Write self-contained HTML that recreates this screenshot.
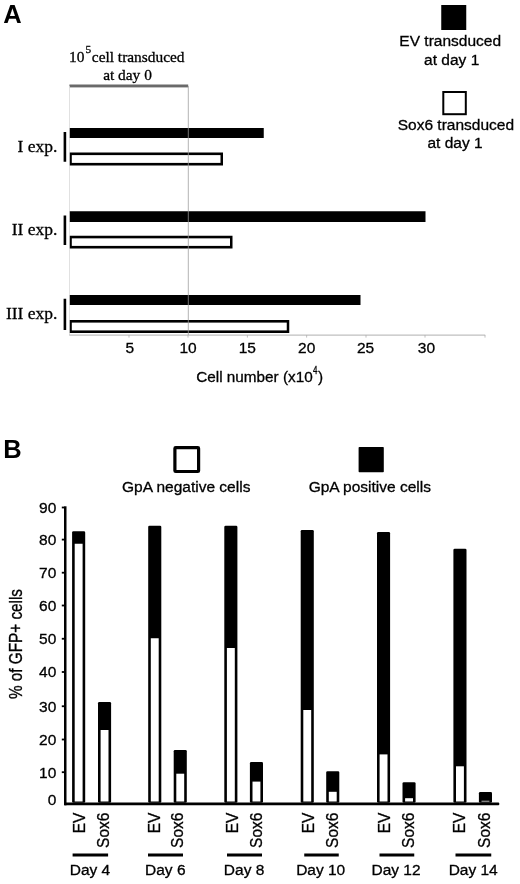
<!DOCTYPE html>
<html><head><meta charset="utf-8"><title>Figure</title>
<style>
html,body{margin:0;padding:0;background:#fff;}
svg{display:block;}
.s{font-family:"Liberation Sans",Arial,sans-serif;font-size:15.5px;fill:#000;stroke:#000;stroke-width:0.3px;}
.t{font-family:"Liberation Serif","Times New Roman",serif;fill:#000;stroke:#000;stroke-width:0.3px;}
.b{font-family:"Liberation Sans",Arial,sans-serif;font-weight:bold;font-size:25.5px;fill:#000;}
</style></head><body>
<svg width="520" height="884" viewBox="0 0 520 884">
<rect width="520" height="884" fill="#fff"/>

<text class="b" x="3.2" y="23">A</text>
<text class="t" font-size="15.4" x="69" y="62">10</text>
<text class="t" font-size="11.3" x="85.6" y="53.4">5</text>
<text class="t" font-size="15.4" x="91.8" y="62">cell transduced</text>
<text class="t" font-size="15.4" x="127.5" y="80" text-anchor="middle">at day 0</text>
<rect x="69.4" y="84.5" width="118.8" height="2.9" fill="#6a6a6a"/>
<rect x="69.1" y="86" width="0.8" height="249" fill="#dadada"/>
<rect x="69.2" y="334.6" width="416" height="1" fill="#b0b0b0"/>
<rect x="128.6" y="335" width="0.8" height="2.6" fill="#b0b0b0"/>
<rect x="187.6" y="335" width="0.8" height="2.6" fill="#b0b0b0"/>
<rect x="246.9" y="335" width="0.8" height="2.6" fill="#b0b0b0"/>
<rect x="306.3" y="335" width="0.8" height="2.6" fill="#b0b0b0"/>
<rect x="365.6" y="335" width="0.8" height="2.6" fill="#b0b0b0"/>
<rect x="424.6" y="335" width="0.8" height="2.6" fill="#b0b0b0"/>
<rect x="484.6" y="335" width="0.8" height="2.6" fill="#b0b0b0"/>
<rect x="69.8" y="128" width="193.95" height="10" fill="#000"/>
<rect x="69.8" y="152.5" width="153.2" height="13.0" fill="#000"/>
<rect x="71.8" y="155.1" width="148.7" height="7.8" fill="#fff"/>
<rect x="63.6" y="132" width="2.6" height="29.75" fill="#000"/>
<text class="t" font-size="17.5" x="57.4" y="151.5" text-anchor="end">I exp.</text>
<rect x="69.8" y="211.25" width="355.7" height="10.75" fill="#000"/>
<rect x="69.8" y="235.75" width="162.7" height="12.75" fill="#000"/>
<rect x="71.8" y="238.35" width="158.2" height="7.55" fill="#fff"/>
<rect x="63.6" y="215.5" width="2.6" height="29.5" fill="#000"/>
<text class="t" font-size="17.5" x="57.4" y="234.5" text-anchor="end">II exp.</text>
<rect x="69.8" y="295" width="290.7" height="10" fill="#000"/>
<rect x="69.8" y="320" width="219.45" height="13" fill="#000"/>
<rect x="71.8" y="322.6" width="214.95" height="7.8" fill="#fff"/>
<rect x="63.6" y="298.75" width="2.6" height="31.25" fill="#000"/>
<text class="t" font-size="17.5" x="57.4" y="318.75" text-anchor="end">III exp.</text>
<rect x="187.8" y="86" width="1" height="249" fill="#999" fill-opacity="0.75"/>
<text class="s" x="129.7" y="353.4" text-anchor="middle">5</text>
<text class="s" x="188" y="353.4" text-anchor="middle">10</text>
<text class="s" x="247.3" y="353.4" text-anchor="middle">15</text>
<text class="s" x="306.7" y="353.4" text-anchor="middle">20</text>
<text class="s" x="365.5" y="353.4" text-anchor="middle">25</text>
<text class="s" x="426.4" y="353.4" text-anchor="middle">30</text>
<text class="s" style="font-size:15.3px" x="196.2" y="382.2">Cell number (x10</text>
<text class="s" style="font-size:10px" transform="translate(312.9,373.6) scale(0.8,1)">4</text>
<text class="s" style="font-size:15.3px" x="318" y="382.2">)</text>
<rect x="441.25" y="5" width="25" height="25" fill="#000"/>
<text class="s" x="450.2" y="45.9" text-anchor="middle">EV transduced</text>
<text class="s" x="451.7" y="64.5" text-anchor="middle">at day 1</text>
<rect x="443.3" y="92" width="22.5" height="22.2" fill="#fff" stroke="#000" stroke-width="2"/>
<text class="s" x="455.9" y="129.7" text-anchor="middle">Sox6 transduced</text>
<text class="s" x="455" y="147.5" text-anchor="middle">at day 1</text>
<text class="b" x="3.2" y="457.6">B</text>
<rect x="174.9" y="447.6" width="23.7" height="23.9" rx="0.8" fill="#fff" stroke="#000" stroke-width="3.2"/>
<text class="s" x="186.2" y="491.6" text-anchor="middle">GpA negative cells</text>
<rect x="358.6" y="447" width="25.2" height="25.2" rx="0.8" fill="#000"/>
<text class="s" x="369.8" y="491.6" text-anchor="middle">GpA positive cells</text>
<rect x="64" y="506.3" width="2.5" height="299" fill="#000"/>
<rect x="64" y="802.4" width="435.3" height="2.9" rx="1" fill="#000"/>
<text class="s" x="56.3" y="805.00" text-anchor="end">0</text>
<rect x="61.8" y="771.30" width="2.5" height="1.8" fill="#000"/>
<text class="s" x="56.3" y="777.50" text-anchor="end">10</text>
<rect x="61.8" y="738.60" width="2.5" height="1.8" fill="#000"/>
<text class="s" x="56.3" y="744.80" text-anchor="end">20</text>
<rect x="61.8" y="705.35" width="2.5" height="1.8" fill="#000"/>
<text class="s" x="56.3" y="711.55" text-anchor="end">30</text>
<rect x="61.8" y="671.10" width="2.5" height="1.8" fill="#000"/>
<text class="s" x="56.3" y="677.30" text-anchor="end">40</text>
<rect x="61.8" y="637.85" width="2.5" height="1.8" fill="#000"/>
<text class="s" x="56.3" y="644.05" text-anchor="end">50</text>
<rect x="61.8" y="604.60" width="2.5" height="1.8" fill="#000"/>
<text class="s" x="56.3" y="610.80" text-anchor="end">60</text>
<rect x="61.8" y="571.80" width="2.5" height="1.8" fill="#000"/>
<text class="s" x="56.3" y="578.00" text-anchor="end">70</text>
<rect x="61.8" y="538.70" width="2.5" height="1.8" fill="#000"/>
<text class="s" x="56.3" y="544.90" text-anchor="end">80</text>
<rect x="61.8" y="506.60" width="2.5" height="1.8" fill="#000"/>
<text class="s" x="56.3" y="512.80" text-anchor="end">90</text>
<text class="s" transform="translate(21.6,644) rotate(-90) scale(0.987,1.13)" text-anchor="middle">% of GFP+ cells</text>
<rect x="72.1" y="531.25" width="13.1" height="271.54999999999995" rx="1.3" fill="#000"/>
<rect x="74.69999999999999" y="543.75" width="7.8999999999999995" height="257.75" fill="#fff"/>
<rect x="148.2" y="525.75" width="13.1" height="277.04999999999995" rx="1.3" fill="#000"/>
<rect x="150.79999999999998" y="638.25" width="7.8999999999999995" height="163.25" fill="#fff"/>
<rect x="224.3" y="525.75" width="13.1" height="277.04999999999995" rx="1.3" fill="#000"/>
<rect x="226.9" y="648" width="7.8999999999999995" height="153.50" fill="#fff"/>
<rect x="300.7" y="530" width="13.1" height="272.79999999999995" rx="1.3" fill="#000"/>
<rect x="303.3" y="710" width="7.8999999999999995" height="91.50" fill="#fff"/>
<rect x="377" y="532" width="13.1" height="270.79999999999995" rx="1.3" fill="#000"/>
<rect x="379.6" y="754.4" width="7.8999999999999995" height="47.10" fill="#fff"/>
<rect x="453.4" y="548.75" width="13.1" height="254.04999999999995" rx="1.3" fill="#000"/>
<rect x="456.0" y="766.3" width="7.8999999999999995" height="35.20" fill="#fff"/>
<rect x="98" y="702" width="13.1" height="100.79999999999995" rx="1.3" fill="#000"/>
<rect x="100.6" y="730" width="7.8999999999999995" height="71.50" fill="#fff"/>
<rect x="173.7" y="749.9" width="13.1" height="52.89999999999998" rx="1.3" fill="#000"/>
<rect x="176.29999999999998" y="773.7" width="7.8999999999999995" height="27.80" fill="#fff"/>
<rect x="249.9" y="761.9" width="13.1" height="40.89999999999998" rx="1.3" fill="#000"/>
<rect x="252.5" y="781.6" width="7.8999999999999995" height="19.90" fill="#fff"/>
<rect x="326.2" y="771.2" width="13.1" height="31.59999999999991" rx="1.3" fill="#000"/>
<rect x="328.8" y="791.8" width="7.8999999999999995" height="9.70" fill="#fff"/>
<rect x="402.5" y="782.2" width="13.1" height="20.59999999999991" rx="1.3" fill="#000"/>
<rect x="405.1" y="798.2" width="7.8999999999999995" height="3.30" fill="#fff"/>
<rect x="478.9" y="791.9" width="13.1" height="10.899999999999977" rx="1.3" fill="#000"/>
<rect x="481.5" y="800.8" width="7.8999999999999995" height="0.70" fill="#fff"/>
<text class="s" transform="translate(84.80,812.6) rotate(-90) scale(1,1.12)" text-anchor="end">EV</text>
<text class="s" transform="translate(108.50,812.6) rotate(-90) scale(1,1.12)" text-anchor="end">Sox6</text>
<rect x="72.60" y="853.5" width="35.50" height="3" fill="#000"/>
<text class="s" x="90.00" y="874.5" text-anchor="middle">Day 4</text>
<text class="s" transform="translate(159.60,812.6) rotate(-90) scale(1,1.12)" text-anchor="end">EV</text>
<text class="s" transform="translate(183.10,812.6) rotate(-90) scale(1,1.12)" text-anchor="end">Sox6</text>
<rect x="148.00" y="853.5" width="35.00" height="3" fill="#000"/>
<text class="s" x="165.30" y="874.5" text-anchor="middle">Day 6</text>
<text class="s" transform="translate(237.60,812.6) rotate(-90) scale(1,1.12)" text-anchor="end">EV</text>
<text class="s" transform="translate(261.80,812.6) rotate(-90) scale(1,1.12)" text-anchor="end">Sox6</text>
<rect x="227.00" y="853.5" width="35.00" height="3" fill="#000"/>
<text class="s" x="244.10" y="874.5" text-anchor="middle">Day 8</text>
<text class="s" transform="translate(313.80,812.6) rotate(-90) scale(1,1.12)" text-anchor="end">EV</text>
<text class="s" transform="translate(338.10,812.6) rotate(-90) scale(1,1.12)" text-anchor="end">Sox6</text>
<rect x="304.25" y="853.5" width="34.50" height="3" fill="#000"/>
<text class="s" x="320.70" y="874.5" text-anchor="middle">Day 10</text>
<text class="s" transform="translate(390.10,812.6) rotate(-90) scale(1,1.12)" text-anchor="end">EV</text>
<text class="s" transform="translate(413.80,812.6) rotate(-90) scale(1,1.12)" text-anchor="end">Sox6</text>
<rect x="379.50" y="853.5" width="34.75" height="3" fill="#000"/>
<text class="s" x="396.00" y="874.5" text-anchor="middle">Day 12</text>
<text class="s" transform="translate(465.10,812.6) rotate(-90) scale(1,1.12)" text-anchor="end">EV</text>
<text class="s" transform="translate(490.10,812.6) rotate(-90) scale(1,1.12)" text-anchor="end">Sox6</text>
<rect x="455.50" y="853.5" width="35.75" height="3" fill="#000"/>
<text class="s" x="473.20" y="874.5" text-anchor="middle">Day 14</text>
</svg></body></html>
